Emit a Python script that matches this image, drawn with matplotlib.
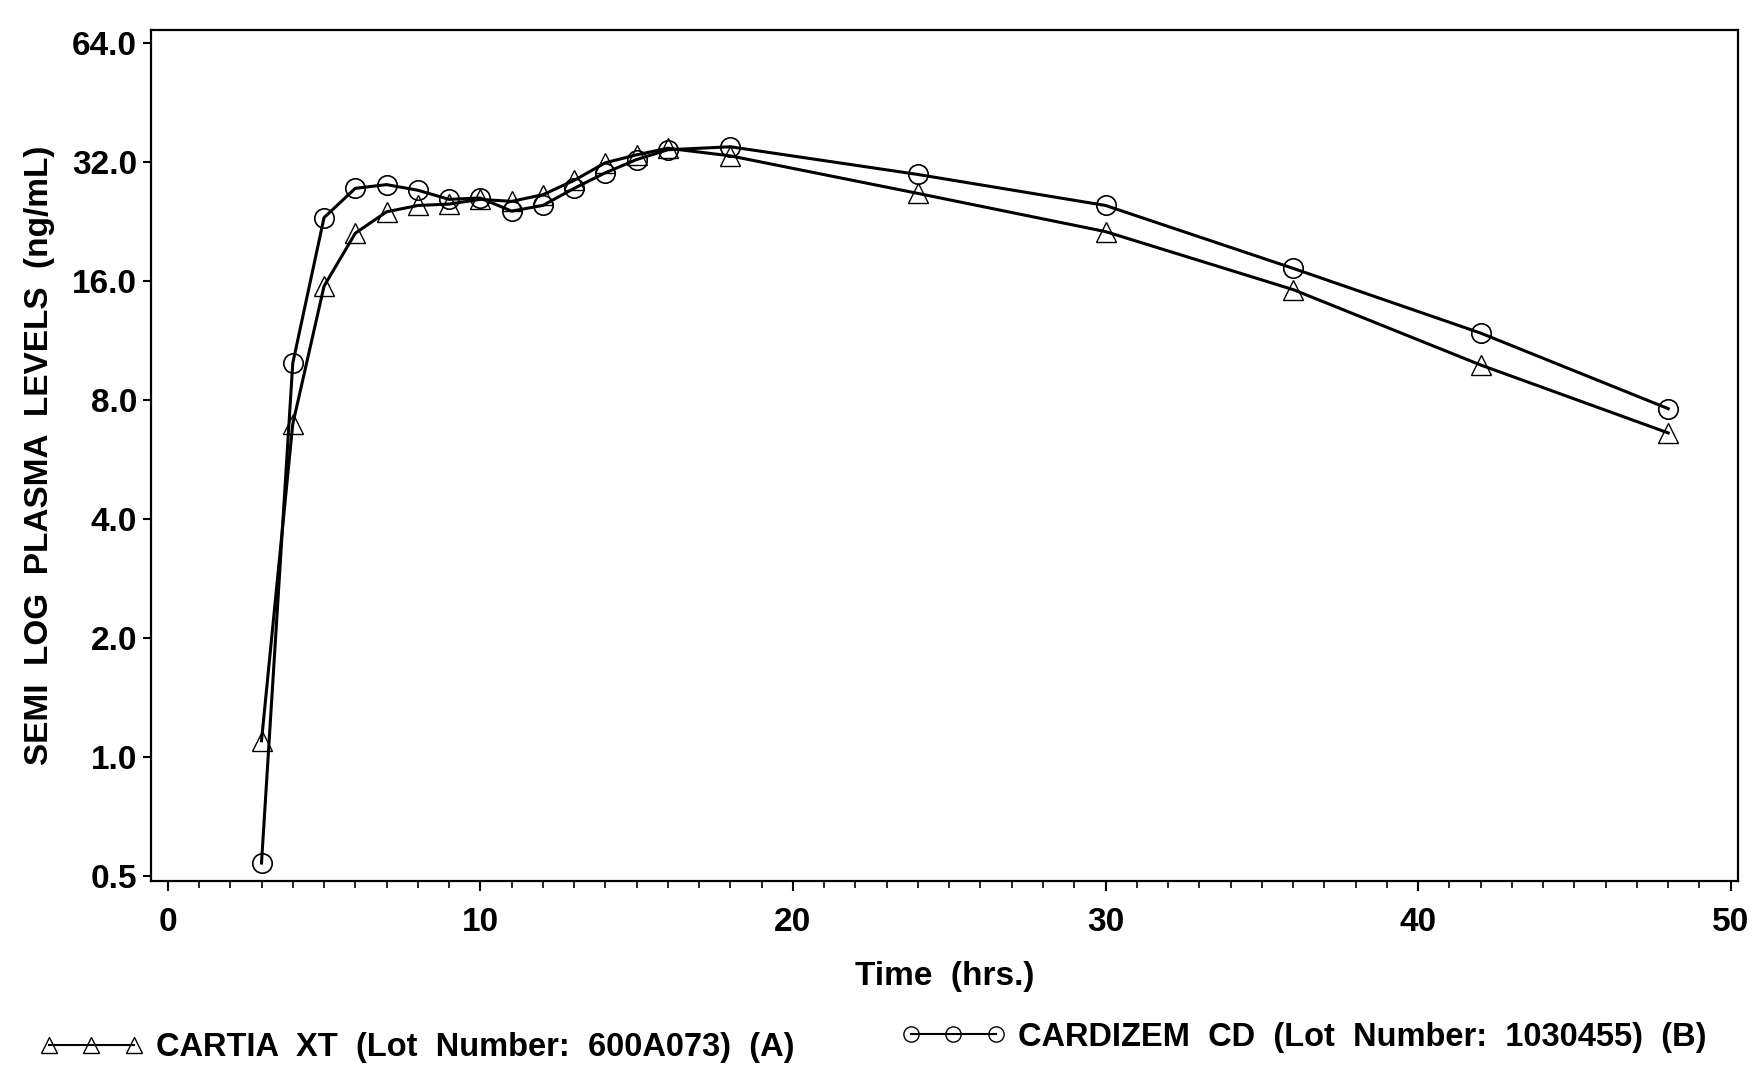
import matplotlib
matplotlib.use("Agg")
import matplotlib.pyplot as plt
from matplotlib.lines import Line2D

# sampling times (hrs.)
time_a = [3, 4, 5, 6, 7, 8, 9, 10, 11, 12, 13, 14, 15, 16, 18, 24, 30, 36, 42, 48]
time_b = [3, 4, 5, 6, 7, 8, 9, 10, 11, 12, 13, 14, 15, 16, 18, 24, 30, 36, 42, 48]

# mean plasma levels (ng/mL)
cartia_xt = [1.10, 6.95, 15.5, 21.1, 23.9, 24.8, 25.0, 25.7, 25.4, 26.4, 28.7, 31.8,
             33.3, 34.6, 33.1, 26.6, 21.3, 15.2, 9.8, 6.6]
cardizem_cd = [0.54, 9.9, 23.1, 27.4, 28.0, 27.1, 25.7, 25.9, 24.0, 24.8, 27.4, 30.0,
               32.4, 34.3, 34.9, 29.7, 24.8, 17.2, 11.8, 7.6]

y_ticks = [0.5, 1.0, 2.0, 4.0, 8.0, 16.0, 32.0, 64.0]
y_tick_labels = ["0.5", "1.0", "2.0", "4.0", "8.0", "16.0", "32.0", "64.0"]
x_ticks = [0, 10, 20, 30, 40, 50]

label_a = "CARTIA  XT  (Lot  Number:  600A073)  (A)"
label_b = "CARDIZEM  CD  (Lot  Number:  1030455)  (B)"

plt.rcParams["font.family"] = ["Liberation Sans", "DejaVu Sans"]

fig = plt.figure(figsize=(17.54, 10.68), dpi=100)
ax = fig.add_axes([0.086, 0.175, 0.905, 0.797])

ax.plot(time_a, cartia_xt, color="black", linewidth=2.2, marker="^", markersize=14,
        markerfacecolor="none", markeredgecolor="black", markeredgewidth=1.0)
ax.plot(time_b, cardizem_cd, color="black", linewidth=2.2, marker="o", markersize=14,
        markerfacecolor="none", markeredgecolor="black", markeredgewidth=1.2)

ax.set_yscale("log", base=2)
ax.set_ylim(0.486, 68.9)
ax.set_yticks(y_ticks)
ax.set_yticklabels(y_tick_labels)
ax.minorticks_off()
ax.set_xlim(-0.54, 50.24)
ax.set_xticks(x_ticks)
ax.set_xticks(range(0, 51), minor=True)

ax.tick_params(axis="y", which="major", direction="out", length=6, width=1.5,
               labelsize=24, pad=4)
ax.tick_params(axis="x", which="major", direction="out", length=7, width=1.5,
               labelsize=24, pad=12)
ax.tick_params(axis="x", which="minor", direction="out", length=5, width=1.2)
for lab in ax.get_xticklabels() + ax.get_yticklabels():
    lab.set_fontweight("bold")
for sp in ax.spines.values():
    sp.set_linewidth(1.6)

ax.set_xlabel("Time  (hrs.)", fontsize=24, fontweight="bold", labelpad=16)
ax.set_ylabel("SEMI  LOG  PLASMA  LEVELS  (ng/mL)", fontsize=24, fontweight="bold",
              labelpad=12)

# legend below the plot
h_a = Line2D([], [], color="black", linewidth=1.5, marker="^", markersize=11,
             markerfacecolor="none", markeredgecolor="black")
h_b = Line2D([], [], color="black", linewidth=1.5, marker="o", markersize=11,
             markerfacecolor="none", markeredgecolor="black")
leg_a = fig.legend([h_a], [label_a], loc="center left", bbox_to_anchor=(0.0055, 0.019),
                   numpoints=3, frameon=False, handlelength=3.2, handletextpad=0.37,
                   prop={"weight": "bold", "size": 23.5})
leg_b = fig.legend([h_b], [label_b], loc="center left", bbox_to_anchor=(0.497, 0.029),
                   numpoints=3, frameon=False, handlelength=3.2, handletextpad=0.37,
                   prop={"weight": "bold", "size": 23.5})

fig.savefig("out.png", dpi=100)
